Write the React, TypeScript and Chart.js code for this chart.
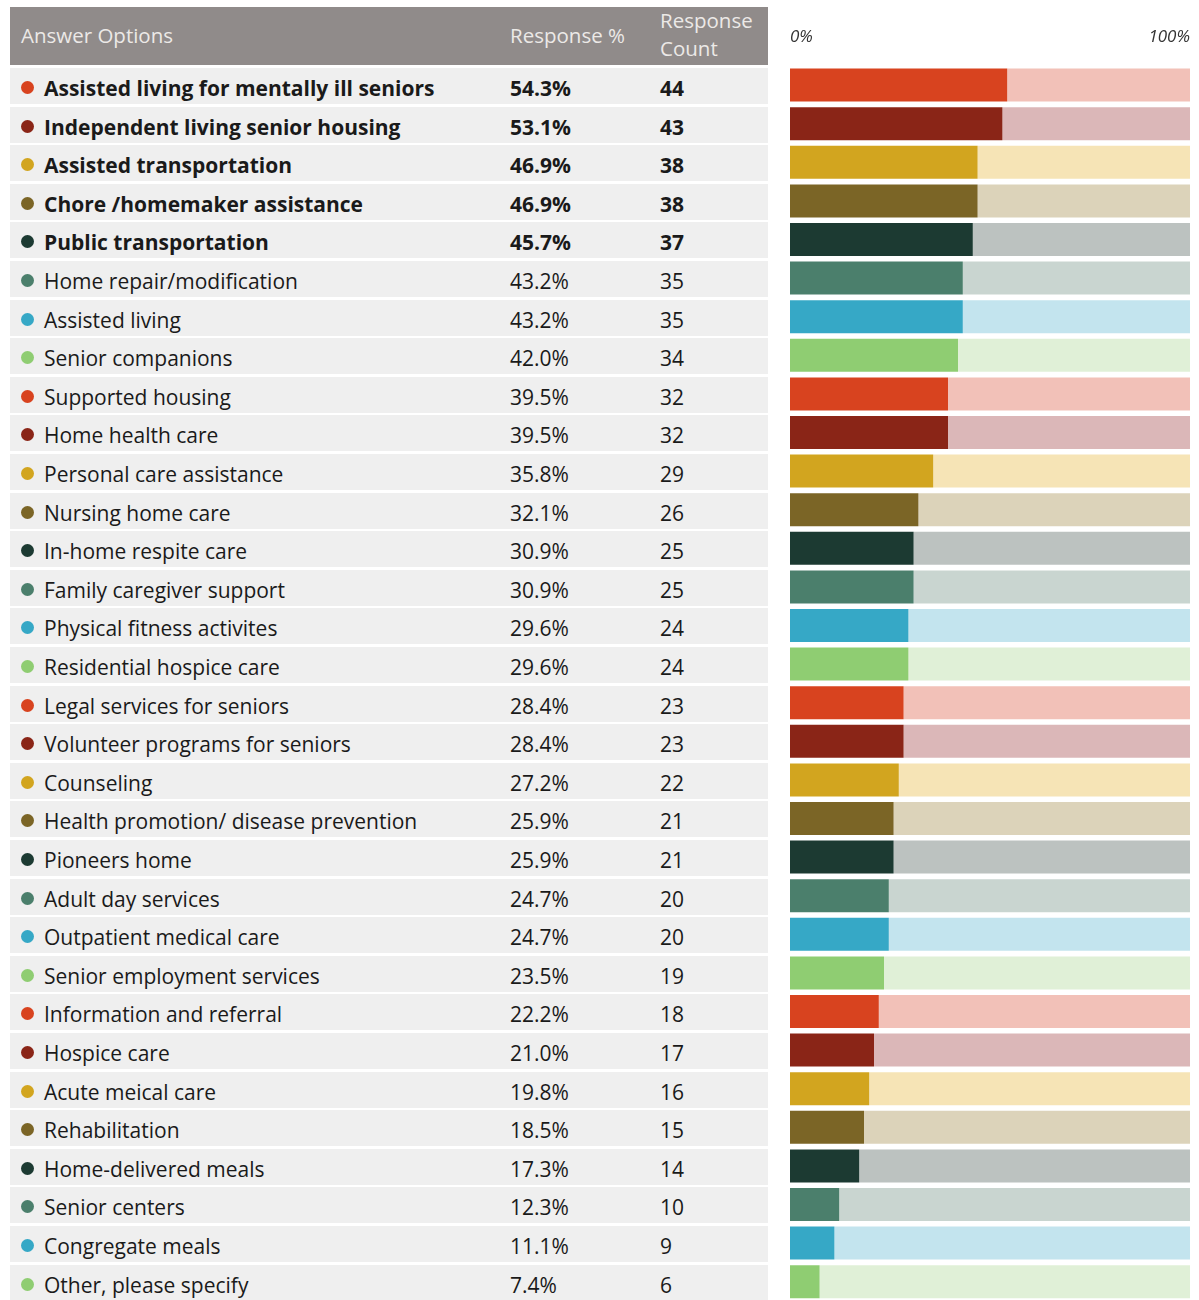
import React, { useEffect, useRef } from "react";
import { Chart, registerables } from "chart.js";

Chart.register(...registerables);

const categories: string[] = [
  "Assisted living for mentally ill seniors",
  "Independent living senior housing",
  "Assisted transportation",
  "Chore /homemaker assistance",
  "Public transportation",
  "Home repair/modification",
  "Assisted living",
  "Senior companions",
  "Supported housing",
  "Home health care",
  "Personal care assistance",
  "Nursing home care",
  "In-home respite care",
  "Family caregiver support",
  "Physical fitness activites",
  "Residential hospice care",
  "Legal services for seniors",
  "Volunteer programs for seniors",
  "Counseling",
  "Health promotion/ disease prevention",
  "Pioneers home",
  "Adult day services",
  "Outpatient medical care",
  "Senior employment services",
  "Information and referral",
  "Hospice care",
  "Acute meical care",
  "Rehabilitation",
  "Home-delivered meals",
  "Senior centers",
  "Congregate meals",
  "Other, please specify",
];

const responsePercent: number[] = [
  54.3, 53.1, 46.9, 46.9, 45.7, 43.2, 43.2, 42.0, 39.5, 39.5, 35.8, 32.1, 30.9,
  30.9, 29.6, 29.6, 28.4, 28.4, 27.2, 25.9, 25.9, 24.7, 24.7, 23.5, 22.2, 21.0,
  19.8, 18.5, 17.3, 12.3, 11.1, 7.4,
];

const responseCount: number[] = [
  44, 43, 38, 38, 37, 35, 35, 34, 32, 32, 29, 26, 25, 25, 24, 24, 23, 23, 22,
  21, 21, 20, 20, 19, 18, 17, 16, 15, 14, 10, 9, 6,
];

const boldRowCount = 5;

const darkColors: string[] = [
  "#d8431f",
  "#8a2517",
  "#d2a51f",
  "#7b6526",
  "#1c3a32",
  "#4b7f6c",
  "#36a8c6",
  "#8fcd72",
];

const lightColors: string[] = [
  "#f2c1b8",
  "#dbb7b8",
  "#f6e4b6",
  "#dcd3ba",
  "#bcc2c0",
  "#c9d5d0",
  "#c3e4ee",
  "#e0f0d7",
];

const axisTickLabels: string[] = ["0%", "100%"];

const FONT = "'Open Sans', 'Noto Sans', sans-serif";
const ROW_PITCH = 38.6;
const ROW_TOP0 = 68;
const ROW_H = 36;

function BarChart() {
  const ref = useRef<HTMLCanvasElement | null>(null);
  useEffect(() => {
    if (!ref.current) return;
    const remainder = responsePercent.map((v) => Math.round((100 - v) * 10) / 10);
    const chart = new Chart(ref.current, {
      type: "bar",
      data: {
        labels: categories,
        datasets: [
          {
            label: "Response %",
            data: responsePercent,
            backgroundColor: categories.map((_, i) => darkColors[i % darkColors.length]),
            borderWidth: 0,
            barPercentage: 0.855,
            categoryPercentage: 1,
          },
          {
            label: "Remainder",
            data: remainder,
            backgroundColor: categories.map((_, i) => lightColors[i % lightColors.length]),
            borderWidth: 0,
            barPercentage: 0.855,
            categoryPercentage: 1,
          },
        ],
      },
      options: {
        indexAxis: "y",
        animation: false,
        responsive: false,
        maintainAspectRatio: false,
        layout: { padding: { left: 10, right: 9, top: 0, bottom: 0 } },
        plugins: { legend: { display: false }, tooltip: { enabled: false } },
        scales: {
          x: {
            position: "top",
            stacked: true,
            min: 0,
            max: 100,
            grid: { display: false, drawTicks: false },
            border: { display: false },
            afterFit: (scale: any) => {
              scale.height = 65.8;
              scale.paddingLeft = 0;
              scale.paddingRight = 0;
            },
            ticks: {
              stepSize: 100,
              align: "inner",
              padding: 18,
              color: "#333333",
              font: { family: FONT, size: 17, style: "italic" },
              callback: (v: any) => (v === 0 ? axisTickLabels[0] : v === 100 ? axisTickLabels[1] : ""),
            },
          },
          y: {
            stacked: true,
            display: false,
          },
        },
      },
    });
    return () => chart.destroy();
  }, []);
  return (
    <canvas
      ref={ref}
      width={419}
      height={1301}
      style={{ position: "absolute", left: 780, top: 0, width: 419, height: 1301 }}
    />
  );
}

export default function App() {
  const headerText: React.CSSProperties = {
    position: "absolute",
    fontSize: 20.5,
    lineHeight: "28px",
    color: "#ece9e7",
    whiteSpace: "nowrap",
  };
  return (
    <div
      style={{
        position: "absolute",
        left: 0,
        top: 0,
        width: 1199,
        height: 1300,
        overflow: "hidden",
        background: "#ffffff",
        fontFamily: FONT,
      }}
    >
      <div
        style={{
          position: "absolute",
          left: 10,
          top: 7,
          width: 758,
          height: 58,
          background: "#908b8a",
        }}
      />
      <div style={{ ...headerText, left: 21, top: 21 }}>Answer Options</div>
      <div style={{ ...headerText, left: 510, top: 21 }}>Response %</div>
      <div style={{ ...headerText, left: 660, top: 6 }}>
        Response
        <br />
        Count
      </div>
      {categories.map((c, i) => {
        const top = ROW_TOP0 + i * ROW_PITCH;
        const bold = i < boldRowCount;
        const textStyle: React.CSSProperties = {
          position: "absolute",
          top: top + 2,
          height: ROW_H,
          lineHeight: ROW_H + "px",
          fontSize: 21,
          fontWeight: bold ? 700 : 400,
          color: "#1a1a1a",
          whiteSpace: "nowrap",
        };
        return (
          <React.Fragment key={c}>
            <div
              style={{
                position: "absolute",
                left: 10,
                top: top,
                width: 758,
                height: ROW_H,
                background: "#efefef",
              }}
            />
            <div
              style={{
                position: "absolute",
                left: 21,
                top: top + ROW_H / 2 - 5,
                width: 13,
                height: 13,
                borderRadius: 7,
                background: darkColors[i % darkColors.length],
              }}
            />
            <div style={{ ...textStyle, left: 44 }}>{c}</div>
            <div style={{ ...textStyle, left: 510 }}>{responsePercent[i].toFixed(1)}%</div>
            <div style={{ ...textStyle, left: 660 }}>{responseCount[i]}</div>
          </React.Fragment>
        );
      })}
      <BarChart />
    </div>
  );
}
